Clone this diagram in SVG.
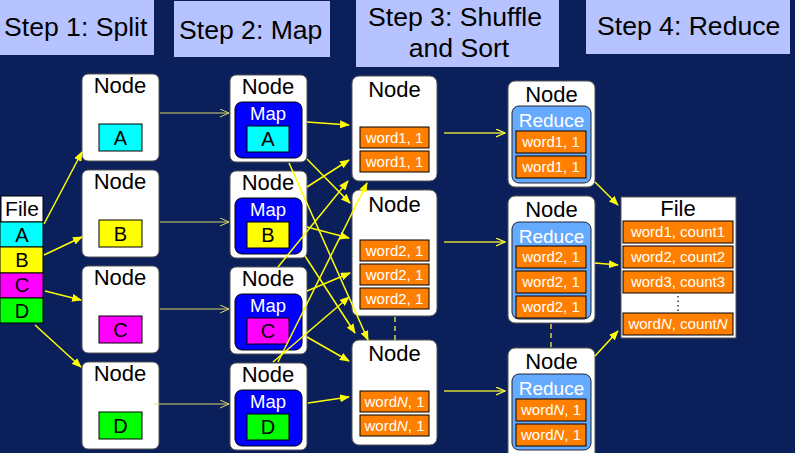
<svg xmlns="http://www.w3.org/2000/svg" width="795" height="453" viewBox="0 0 795 453">
<defs>
<style>
.hdr{fill:#b7c3ff}
.ht{font-family:"Liberation Sans",Arial,sans-serif;font-size:26.6px;fill:#000}
.node{fill:#fff;stroke:#555;stroke-width:1}
.nt{font-family:"Liberation Sans",Arial,sans-serif;font-size:22px;fill:#000;text-anchor:middle}
.lt{font-family:"Liberation Sans",Arial,sans-serif;font-size:20px;fill:#000;text-anchor:middle}
.map{fill:#0000ff;stroke:#000;stroke-width:1}
.red{fill:#66aaff;stroke:#223;stroke-width:1}
.wt{font-family:"Liberation Sans",Arial,sans-serif;font-size:18.5px;fill:#fff;text-anchor:middle}
.rt{font-family:"Liberation Sans",Arial,sans-serif;font-size:19px;fill:#fff;text-anchor:middle}
.or{fill:#ff7f00;stroke:#000;stroke-width:1}
.ot{font-family:"Liberation Sans",Arial,sans-serif;font-size:15px;fill:#fff;text-anchor:middle}
.cy{fill:#00ffff;stroke:#000;stroke-width:1}
.ye{fill:#ffff00;stroke:#000;stroke-width:1}
.ma{fill:#ff00ff;stroke:#000;stroke-width:1}
.gr{fill:#00ff00;stroke:#000;stroke-width:1}
.wf{fill:#fff;stroke:#000;stroke-width:1}
.a{stroke:#ffff00;stroke-width:1.5;fill:none;marker-end:url(#af)}
.p{stroke:#d8d868;stroke-width:1;fill:none;marker-end:url(#ap)}
.o{stroke:#a8a840;stroke-width:2;fill:none;marker-end:url(#ao)}
.d{stroke:#a8a840;stroke-width:2;fill:none;stroke-dasharray:5,4}
</style>
<marker id="af" markerUnits="userSpaceOnUse" markerWidth="10" markerHeight="8" refX="9" refY="4" orient="auto"><path d="M0,0 L10,4 L0,8 z" fill="#ffff00"/></marker>
<marker id="ap" markerUnits="userSpaceOnUse" markerWidth="10" markerHeight="9" refX="9" refY="4.5" orient="auto"><path d="M0,0.5 L9,4.5 L0,8.5" fill="none" stroke="#d8d868" stroke-width="1"/></marker>
<marker id="ao" markerUnits="userSpaceOnUse" markerWidth="10" markerHeight="9" refX="9" refY="4.5" orient="auto"><path d="M0,0.5 L9,4.5 L0,8.5" fill="none" stroke="#ffff40" stroke-width="1.2"/></marker>
</defs>
<rect width="795" height="453" fill="#0b1f5a"/>
<g id="headers">
<rect class="hdr" x="0" y="0" width="154" height="55"/><text class="ht" x="4" y="36">Step 1: Split</text>
<rect class="hdr" x="174" y="1" width="156" height="56"/><text class="ht" x="179" y="39">Step 2: Map</text>
<rect class="hdr" x="356" y="-2" width="203" height="69"/><text class="ht" x="455" y="26" text-anchor="middle">Step 3: Shuffle</text><text class="ht" x="459" y="57" text-anchor="middle">and Sort</text>
<rect class="hdr" x="586" y="0" width="204" height="54"/><text class="ht" x="597" y="35">Step 4: Reduce</text>
</g>
<g id="input-file">
<rect class="wf" x="1" y="196" width="42" height="26"/><text class="lt" x="22" y="216" style="font-size:21px">File</text>
<rect class="cy" x="0" y="222" width="43" height="25"/><text class="lt" x="22" y="242">A</text>
<rect class="ye" x="0" y="247" width="43" height="26"/><text class="lt" x="22" y="267">B</text>
<rect class="ma" x="0" y="273" width="43" height="25"/><text class="lt" x="22" y="292">C</text>
<rect class="gr" x="0" y="298" width="43" height="25"/><text class="lt" x="22" y="318">D</text>
</g>
<g id="split-a"><rect class="node" x="82" y="74" width="77" height="87" rx="6"/><text class="nt" x="120" y="93">Node</text><rect class="cy" x="99" y="124" width="43" height="27"/><text class="lt" x="120.5" y="145">A</text></g>
<g id="split-b"><rect class="node" x="82" y="170" width="77" height="87" rx="6"/><text class="nt" x="120" y="189">Node</text><rect class="ye" x="99" y="220" width="43" height="27"/><text class="lt" x="120.5" y="241">B</text></g>
<g id="split-c"><rect class="node" x="82" y="266" width="77" height="87" rx="6"/><text class="nt" x="120" y="285">Node</text><rect class="ma" x="99" y="316" width="43" height="27"/><text class="lt" x="120.5" y="337">C</text></g>
<g id="split-d"><rect class="node" x="82" y="362" width="77" height="87" rx="6"/><text class="nt" x="120" y="381">Node</text><rect class="gr" x="99" y="412" width="43" height="27"/><text class="lt" x="120.5" y="433">D</text></g>
<g id="map-a"><rect class="node" x="230" y="75" width="77" height="87" rx="6"/><text class="nt" x="268" y="94">Node</text><rect class="map" x="235" y="102" width="67" height="56" rx="7"/><text class="wt" x="268" y="120">Map</text><rect class="cy" x="247" y="126" width="42" height="26"/><text class="lt" x="268" y="146">A</text></g>
<g id="map-b"><rect class="node" x="230" y="171" width="77" height="87" rx="6"/><text class="nt" x="268" y="190">Node</text><rect class="map" x="235" y="198" width="67" height="56" rx="7"/><text class="wt" x="268" y="216">Map</text><rect class="ye" x="247" y="222" width="42" height="26"/><text class="lt" x="268" y="242">B</text></g>
<g id="map-c"><rect class="node" x="230" y="267" width="77" height="87" rx="6"/><text class="nt" x="268" y="286">Node</text><rect class="map" x="235" y="294" width="67" height="56" rx="7"/><text class="wt" x="268" y="312">Map</text><rect class="ma" x="247" y="318" width="42" height="26"/><text class="lt" x="268" y="338">C</text></g>
<g id="map-d"><rect class="node" x="230" y="363" width="77" height="87" rx="6"/><text class="nt" x="268" y="382">Node</text><rect class="map" x="235" y="390" width="67" height="56" rx="7"/><text class="wt" x="268" y="408">Map</text><rect class="gr" x="247" y="414" width="42" height="26"/><text class="lt" x="268" y="434">D</text></g>
<g id="shuffle-1"><rect class="node" x="352" y="76" width="85" height="105" rx="7"/><text class="nt" x="394.5" y="97">Node</text>
<rect class="or" x="360" y="127" width="69" height="21"/><text class="ot" x="394.5" y="143">word1, 1</text>
<rect class="or" x="360" y="151" width="69" height="21"/><text class="ot" x="394.5" y="167">word1, 1</text></g>
<g id="shuffle-2"><rect class="node" x="352" y="190" width="85" height="126" rx="7"/><text class="nt" x="394.5" y="212">Node</text>
<rect class="or" x="360" y="240" width="69" height="21"/><text class="ot" x="394.5" y="256">word2, 1</text>
<rect class="or" x="360" y="264" width="69" height="21"/><text class="ot" x="394.5" y="280">word2, 1</text>
<rect class="or" x="360" y="288" width="69" height="21"/><text class="ot" x="394.5" y="304">word2, 1</text></g>
<g id="shuffle-n"><rect class="node" x="352" y="340" width="85" height="105" rx="7"/><text class="nt" x="394.5" y="361">Node</text>
<rect class="or" x="360" y="391" width="69" height="21"/><text class="ot" x="394.5" y="407">word<tspan font-style="italic">N</tspan>, 1</text>
<rect class="or" x="360" y="415" width="69" height="21"/><text class="ot" x="394.5" y="431">word<tspan font-style="italic">N</tspan>, 1</text></g>
<g id="reduce-1"><rect class="node" x="508" y="81" width="87" height="106" rx="7"/><text class="nt" x="551.5" y="102">Node</text>
<rect class="red" x="512" y="106" width="79" height="77" rx="7"/><text class="rt" x="551.5" y="127">Reduce</text>
<rect class="or" x="516" y="131" width="70" height="22"/><text class="ot" x="551" y="147">word1, 1</text>
<rect class="or" x="516" y="156" width="70" height="22"/><text class="ot" x="551" y="172">word1, 1</text></g>
<g id="reduce-2"><rect class="node" x="508" y="196" width="87" height="127" rx="7"/><text class="nt" x="551.5" y="217">Node</text>
<rect class="red" x="512" y="222" width="79" height="97" rx="7"/><text class="rt" x="551.5" y="243">Reduce</text>
<rect class="or" x="516" y="246" width="70" height="22"/><text class="ot" x="551" y="262">word2, 1</text>
<rect class="or" x="516" y="271" width="70" height="22"/><text class="ot" x="551" y="287">word2, 1</text>
<rect class="or" x="516" y="296" width="70" height="22"/><text class="ot" x="551" y="312">word2, 1</text></g>
<g id="reduce-n"><rect class="node" x="508" y="348" width="87" height="112" rx="7"/><text class="nt" x="551.5" y="369">Node</text>
<rect class="red" x="512" y="374" width="79" height="76" rx="7"/><text class="rt" x="551.5" y="395">Reduce</text>
<rect class="or" x="516" y="399" width="70" height="22"/><text class="ot" x="551" y="415">word<tspan font-style="italic">N</tspan>, 1</text>
<rect class="or" x="516" y="424" width="70" height="22"/><text class="ot" x="551" y="440">word<tspan font-style="italic">N</tspan>, 1</text></g>
<g id="output-file"><rect class="node" x="621" y="197" width="115" height="141"/><text class="nt" x="678" y="216">File</text>
<rect class="or" x="623" y="221" width="110" height="22"/><text class="ot" x="678" y="237">word1, count1</text>
<rect class="or" x="623" y="246" width="110" height="22"/><text class="ot" x="678" y="262">word2, count2</text>
<rect class="or" x="623" y="271" width="110" height="22"/><text class="ot" x="678" y="287">word3, count3</text>
<line x1="678" y1="296" x2="678" y2="312" stroke="#333" stroke-width="1.5" stroke-dasharray="1.5,3"/>
<rect class="or" x="623" y="313" width="110" height="22"/><text class="ot" x="678" y="329">word<tspan font-style="italic">N</tspan>, count<tspan font-style="italic">N</tspan></text></g>
<g id="connectors">
<line class="a" x1="44" y1="224" x2="82" y2="152"/>
<line class="a" x1="44" y1="255" x2="82" y2="237"/>
<line class="a" x1="45" y1="291" x2="81" y2="300"/>
<line class="a" x1="35" y1="325" x2="81" y2="367"/>
<line class="p" x1="160" y1="113" x2="229" y2="113"/>
<line class="p" x1="160" y1="222" x2="229" y2="222"/>
<line class="p" x1="160" y1="309" x2="229" y2="309"/>
<line class="p" x1="154" y1="404" x2="229" y2="404"/>
<line class="a" x1="307" y1="122" x2="349" y2="125"/>
<line class="a" x1="307" y1="159" x2="350" y2="203"/>
<line class="a" x1="289" y1="163" x2="368" y2="340"/>
<line class="a" x1="307" y1="187" x2="349" y2="160"/>
<line class="a" x1="307" y1="227" x2="349" y2="238"/>
<line class="a" x1="305" y1="256" x2="355" y2="333"/>
<line class="a" x1="278" y1="267" x2="348" y2="181"/>
<line class="a" x1="307" y1="291" x2="350" y2="273"/>
<line class="a" x1="307" y1="337" x2="349" y2="361"/>
<line class="a" x1="278" y1="362" x2="367" y2="183"/>
<line class="a" x1="273" y1="362" x2="349" y2="297"/>
<line class="a" x1="308" y1="403" x2="349" y2="397"/>
<line class="o" x1="444" y1="133" x2="505" y2="133"/>
<line class="o" x1="444" y1="242" x2="505" y2="242"/>
<line class="o" x1="444" y1="391" x2="505" y2="391"/>
<line class="d" x1="395" y1="317" x2="395" y2="340"/>
<line class="d" x1="551" y1="324" x2="551" y2="348"/>
<line class="a" x1="595" y1="182" x2="618" y2="205"/>
<line class="a" x1="595" y1="263" x2="618" y2="265"/>
<line class="a" x1="595" y1="356" x2="618" y2="331"/>
</g>
</svg>
